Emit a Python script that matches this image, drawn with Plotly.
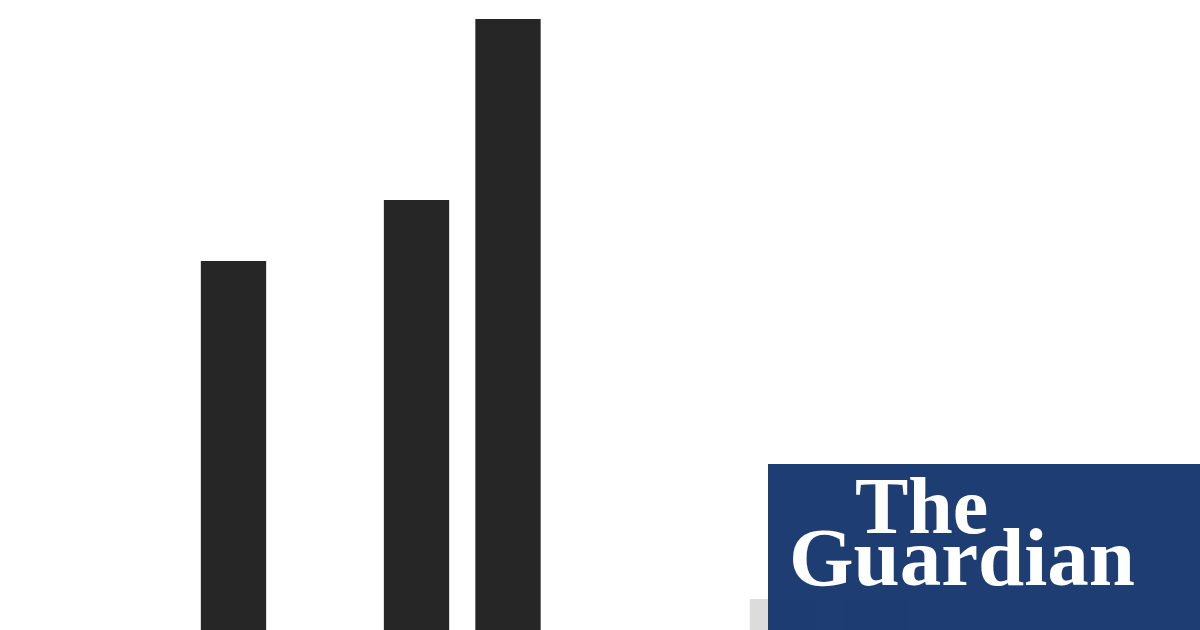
import plotly.graph_objects as go

# Data
categories = ["c0", "c1", "c2", "c3", "c4", "c5", "c6", "c7", "c8", "c9", "c10"]
values = [38.9, None, 45.0, 63.1, None, None, 5.1, 4.9, None, None, None]
bar_colors = ["#262626", "#262626", "#262626", "#262626", "#262626", "#262626",
              "#dcdcdc", "#dcdcdc", "#dcdcdc", "#dcdcdc", "#dcdcdc"]
logo_lines = ["The", "Guardian"]

fig = go.Figure()
fig.add_trace(go.Bar(
    x=list(range(len(categories))),
    y=values,
    marker=dict(color=bar_colors, line=dict(width=0)),
    hoverinfo="skip",
))

fig.update_layout(
    width=1200, height=630,
    margin=dict(l=0, r=0, t=0, b=0),
    paper_bgcolor="#ffffff",
    plot_bgcolor="#ffffff",
    showlegend=False,
    bargap=0.286,
    xaxis=dict(range=[-2.552, 10.563], visible=False, fixedrange=True),
    yaxis=dict(range=[2.0, 65.0], visible=False, fixedrange=True),
)

# Logo box
fig.add_shape(type="rect", xref="paper", yref="paper",
              x0=768/1200, x1=1.0, y0=0.0, y1=1 - 464/630,
              fillcolor="#17376d", opacity=0.97, line=dict(width=0), layer="above")

fig.add_annotation(text="<b>" + logo_lines[0] + "</b>", xref="paper", yref="paper",
                   x=990/1200, y=1 - 552/630, xanchor="right", yanchor="bottom",
                   showarrow=False,
                   font=dict(family="Liberation Serif", size=80, color="#ffffff"))
fig.add_annotation(text="<b>" + logo_lines[1] + "</b>", xref="paper", yref="paper",
                   x=1137/1200, y=1 - 605/630, xanchor="right", yanchor="bottom",
                   showarrow=False,
                   font=dict(family="Liberation Serif", size=83, color="#ffffff"))

fig.write_html("out.html", config={"displayModeBar": False, "staticPlot": True},
               post_script="document.body.style.margin='0';document.body.style.overflow='hidden';")
